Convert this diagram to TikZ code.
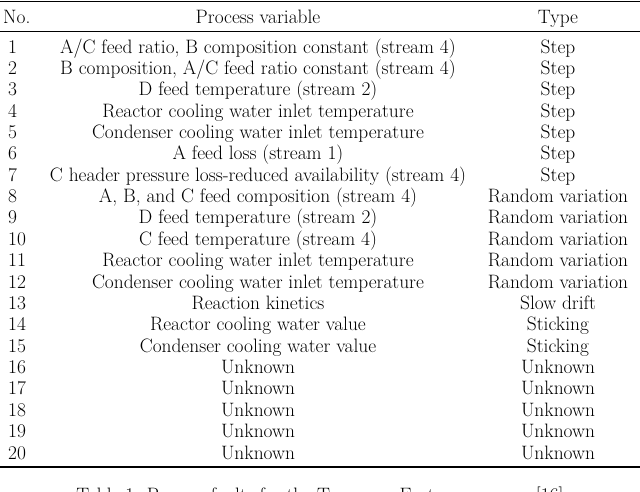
\documentclass[tikz,border=0pt]{standalone}
\begin{document}
\begin{tikzpicture}[x=1pt,y=-1pt,
  cell/.style={inner sep=0pt,anchor=base,font=\fontsize{19.4}{22}\selectfont},
  num/.style={cell,anchor=base west}]
\clip (0,0) rectangle (640,491);
\fill[white] (0,0) rectangle (640,491);
\draw[line width=1.4pt] (0,1.5) -- (640,1.5);
\draw[line width=0.8pt] (0,31) -- (640,31);
\draw[line width=1.4pt] (0,467) -- (640,467);
\node[num] (h1) at (3,23) {No.};
\node[cell] (h2) at (258,23) {Process variable};
\node[cell] (h3) at (558,23) {Type};
\foreach \i/\p/\t in {
1/{A/C feed ratio, B composition constant (stream 4)}/Step,
2/{B composition, A/C feed ratio constant (stream 4)}/Step,
3/{D feed temperature (stream 2)}/Step,
4/{Reactor cooling water inlet temperature}/Step,
5/{Condenser cooling water inlet temperature}/Step,
6/{A feed loss (stream 1)}/Step,
7/{C header pressure loss-reduced availability (stream 4)}/Step,
8/{A, B, and C feed composition (stream 4)}/Random variation,
9/{D feed temperature (stream 2)}/Random variation,
10/{C feed temperature (stream 4)}/Random variation,
11/{Reactor cooling water inlet temperature}/Random variation,
12/{Condenser cooling water inlet temperature}/Random variation,
13/{Reaction kinetics}/Slow drift,
14/{Reactor cooling water value}/Sticking,
15/{Condenser cooling water value}/Sticking,
16/Unknown/Unknown,
17/Unknown/Unknown,
18/Unknown/Unknown,
19/Unknown/Unknown,
20/Unknown/Unknown}{
  \pgfmathsetmacro\yy{53+(\i-1)*21.37}
  \node[num] (n\i) at (8,\yy) {\i};
  \node[cell] (p\i) at (258,\yy) {\p};
  \node[cell] (t\i) at (558,\yy) {\t};
}
\node[cell] (cap) at (320,501) {Table 1: Process faults for the Tennessee Eastman process [16]};
\end{tikzpicture}
\end{document}
